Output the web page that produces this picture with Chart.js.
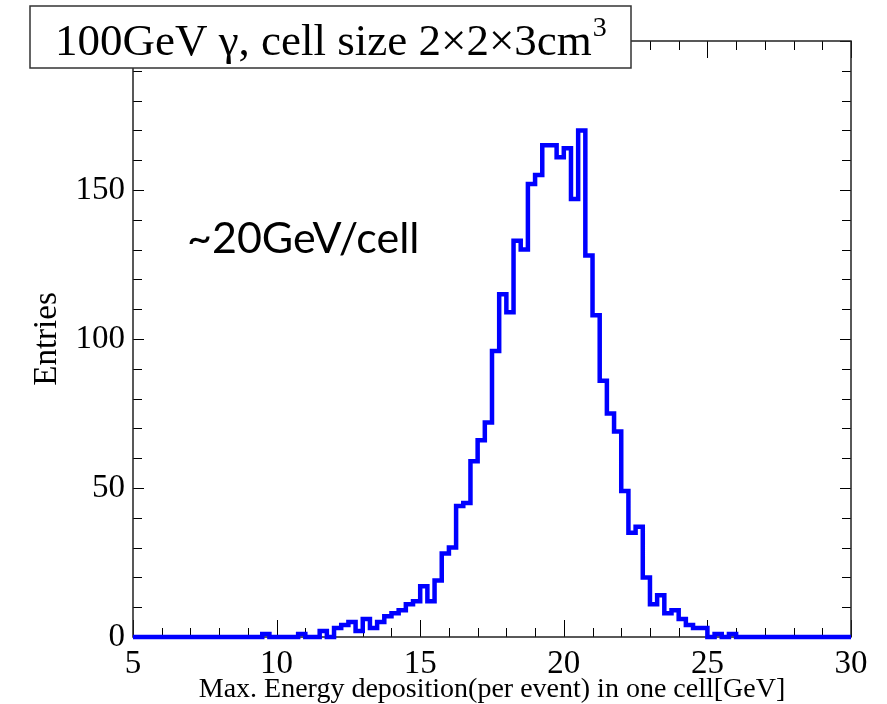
<!DOCTYPE html>
<html>
<head>
<meta charset="utf-8">
<script src="https://cdn.jsdelivr.net/npm/chart.js@4.4.0/dist/chart.umd.min.js"></script>
<style>
  html, body { margin: 0; padding: 0; background: #fff; }
</style>
</head>
<body>
<canvas id="histo" width="887" height="704"></canvas>
<script>
// Histogram binning: 100 bins of 0.25 GeV from 5 to 30 GeV
const binLow = 5;
const binWidth = 0.25;

// Entries per bin
const entries = [
  0, 0, 0, 0, 0, 0, 0, 0, 0, 0,
  0, 0, 0, 0, 0, 0, 0, 0, 1, 0,
  0, 0, 0, 1, 0, 0, 2, 0, 3, 4,
  5, 2, 6, 3, 5, 7, 8, 9, 11, 12,
  17, 12, 19, 28, 30, 44, 45, 59, 66, 72,
  96, 115, 109, 133, 130, 152, 155, 165, 165, 161,
  164, 147, 170, 128, 108, 86, 75, 69, 49, 35,
  37, 20, 11, 14, 8, 9, 6, 4, 3, 3,
  0, 1, 0, 1, 0, 0, 0, 0, 0, 0,
  0, 0, 0, 0, 0, 0, 0, 0, 0, 0
];

// Axis ticks
const xTicks = [5, 10, 15, 20, 25, 30];
const yTicks = [0, 50, 100, 150];
const xMinorStep = 1;
const yMinorStep = 10;

const serif = "'Liberation Serif', 'DejaVu Serif', serif";

// step points: each bin starts at its lower edge, last point closes the final bin
const points = entries.map((v, i) => ({ x: binLow + i * binWidth, y: v }));
points.push({ x: binLow + entries.length * binWidth, y: entries[entries.length - 1] });

// ROOT style frame with inward ticks on all four sides
const rootFrame = {
  id: 'rootFrame',
  beforeDatasetsDraw(chart) {
    const { ctx, chartArea: a, scales: { x, y } } = chart;
    ctx.save();
    ctx.strokeStyle = '#000';
    ctx.lineWidth = 1;
    ctx.beginPath();
    for (let v = x.min; v <= x.max + 1e-9; v += xMinorStep) {
      const px = Math.round(x.getPixelForValue(v)) + 0.5;
      const len = (v % 5 === 0) ? 17 : 9;
      ctx.moveTo(px, a.bottom); ctx.lineTo(px, a.bottom - len);
      ctx.moveTo(px, a.top); ctx.lineTo(px, a.top + len);
    }
    for (let v = y.min; v <= y.max + 1e-9; v += yMinorStep) {
      const py = Math.round(y.getPixelForValue(v)) + 0.5;
      const len = (v % 50 === 0) ? 11 : 9;
      ctx.moveTo(a.left, py); ctx.lineTo(a.left + len, py);
      ctx.moveTo(a.right, py); ctx.lineTo(a.right - len, py);
    }
    ctx.stroke();
    ctx.lineWidth = 1.5;
    ctx.strokeStyle = '#222';
    ctx.strokeRect(a.left, a.top, a.right - a.left, a.bottom - a.top);
    ctx.restore();
  },
  afterDraw(chart) {
    const { ctx } = chart;
    ctx.save();
    // title pave
    ctx.fillStyle = '#fff';
    ctx.fillRect(30, 6, 601, 62);
    ctx.strokeStyle = '#333';
    ctx.lineWidth = 1.5;
    ctx.strokeRect(30, 6, 601, 62);
    ctx.fillStyle = '#000';
    ctx.textBaseline = 'alphabetic';
    ctx.font = '45px ' + serif;
    const main = '100GeV \u03B3, cell size 2\u00D72\u00D73cm';
    ctx.fillText(main, 55, 55);
    const w = ctx.measureText(main).width;
    ctx.font = '28px ' + serif;
    ctx.fillText('3', 55 + w + 1, 36);
    // annotation
    ctx.font = "43px Lato, 'Open Sans', sans-serif";
    ctx.fillText('~20GeV/cell', 187, 253);
    ctx.restore();
  }
};

new Chart(document.getElementById('histo'), {
  type: 'line',
  data: {
    datasets: [{
      data: points,
      stepped: 'before',
      borderColor: '#0000ff',
      borderWidth: 4.5,
      pointRadius: 0,
      fill: false,
      clip: false
    }]
  },
  options: {
    responsive: false,
    animation: false,
    devicePixelRatio: 1,
    layout: { padding: { top: 41, right: 36, left: 0, bottom: 0 } },
    plugins: { legend: { display: false }, tooltip: { enabled: false } },
    scales: {
      x: {
        type: 'linear',
        min: 5,
        max: 30,
        afterBuildTicks: s => { s.ticks = xTicks.map(v => ({ value: v })); },
        afterFit: s => { s.height = 67; },
        grid: { display: false },
        border: { display: false },
        ticks: { color: '#000', font: { family: serif, size: 33 }, padding: 0, maxRotation: 0, autoSkip: false },
        title: {
          display: true,
          text: 'Max. Energy deposition(per event) in one cell[GeV]',
          color: '#000',
          font: { family: serif, size: 28, lineHeight: 1 },
          padding: { top: 0, bottom: 0 }
        }
      },
      y: {
        min: 0,
        max: 200,
        afterBuildTicks: s => { s.ticks = yTicks.map(v => ({ value: v })); },
        afterFit: s => { s.width = 133; },
        grid: { display: false },
        border: { display: false },
        ticks: { color: '#000', font: { family: serif, size: 33 }, padding: 0 },
        title: {
          display: true,
          text: 'Entries',
          color: '#000',
          font: { family: serif, size: 33, lineHeight: 1.2 },
          padding: { top: 28, bottom: 0 }
        }
      }
    }
  },
  plugins: [rootFrame]
});
</script>
</body>
</html>
